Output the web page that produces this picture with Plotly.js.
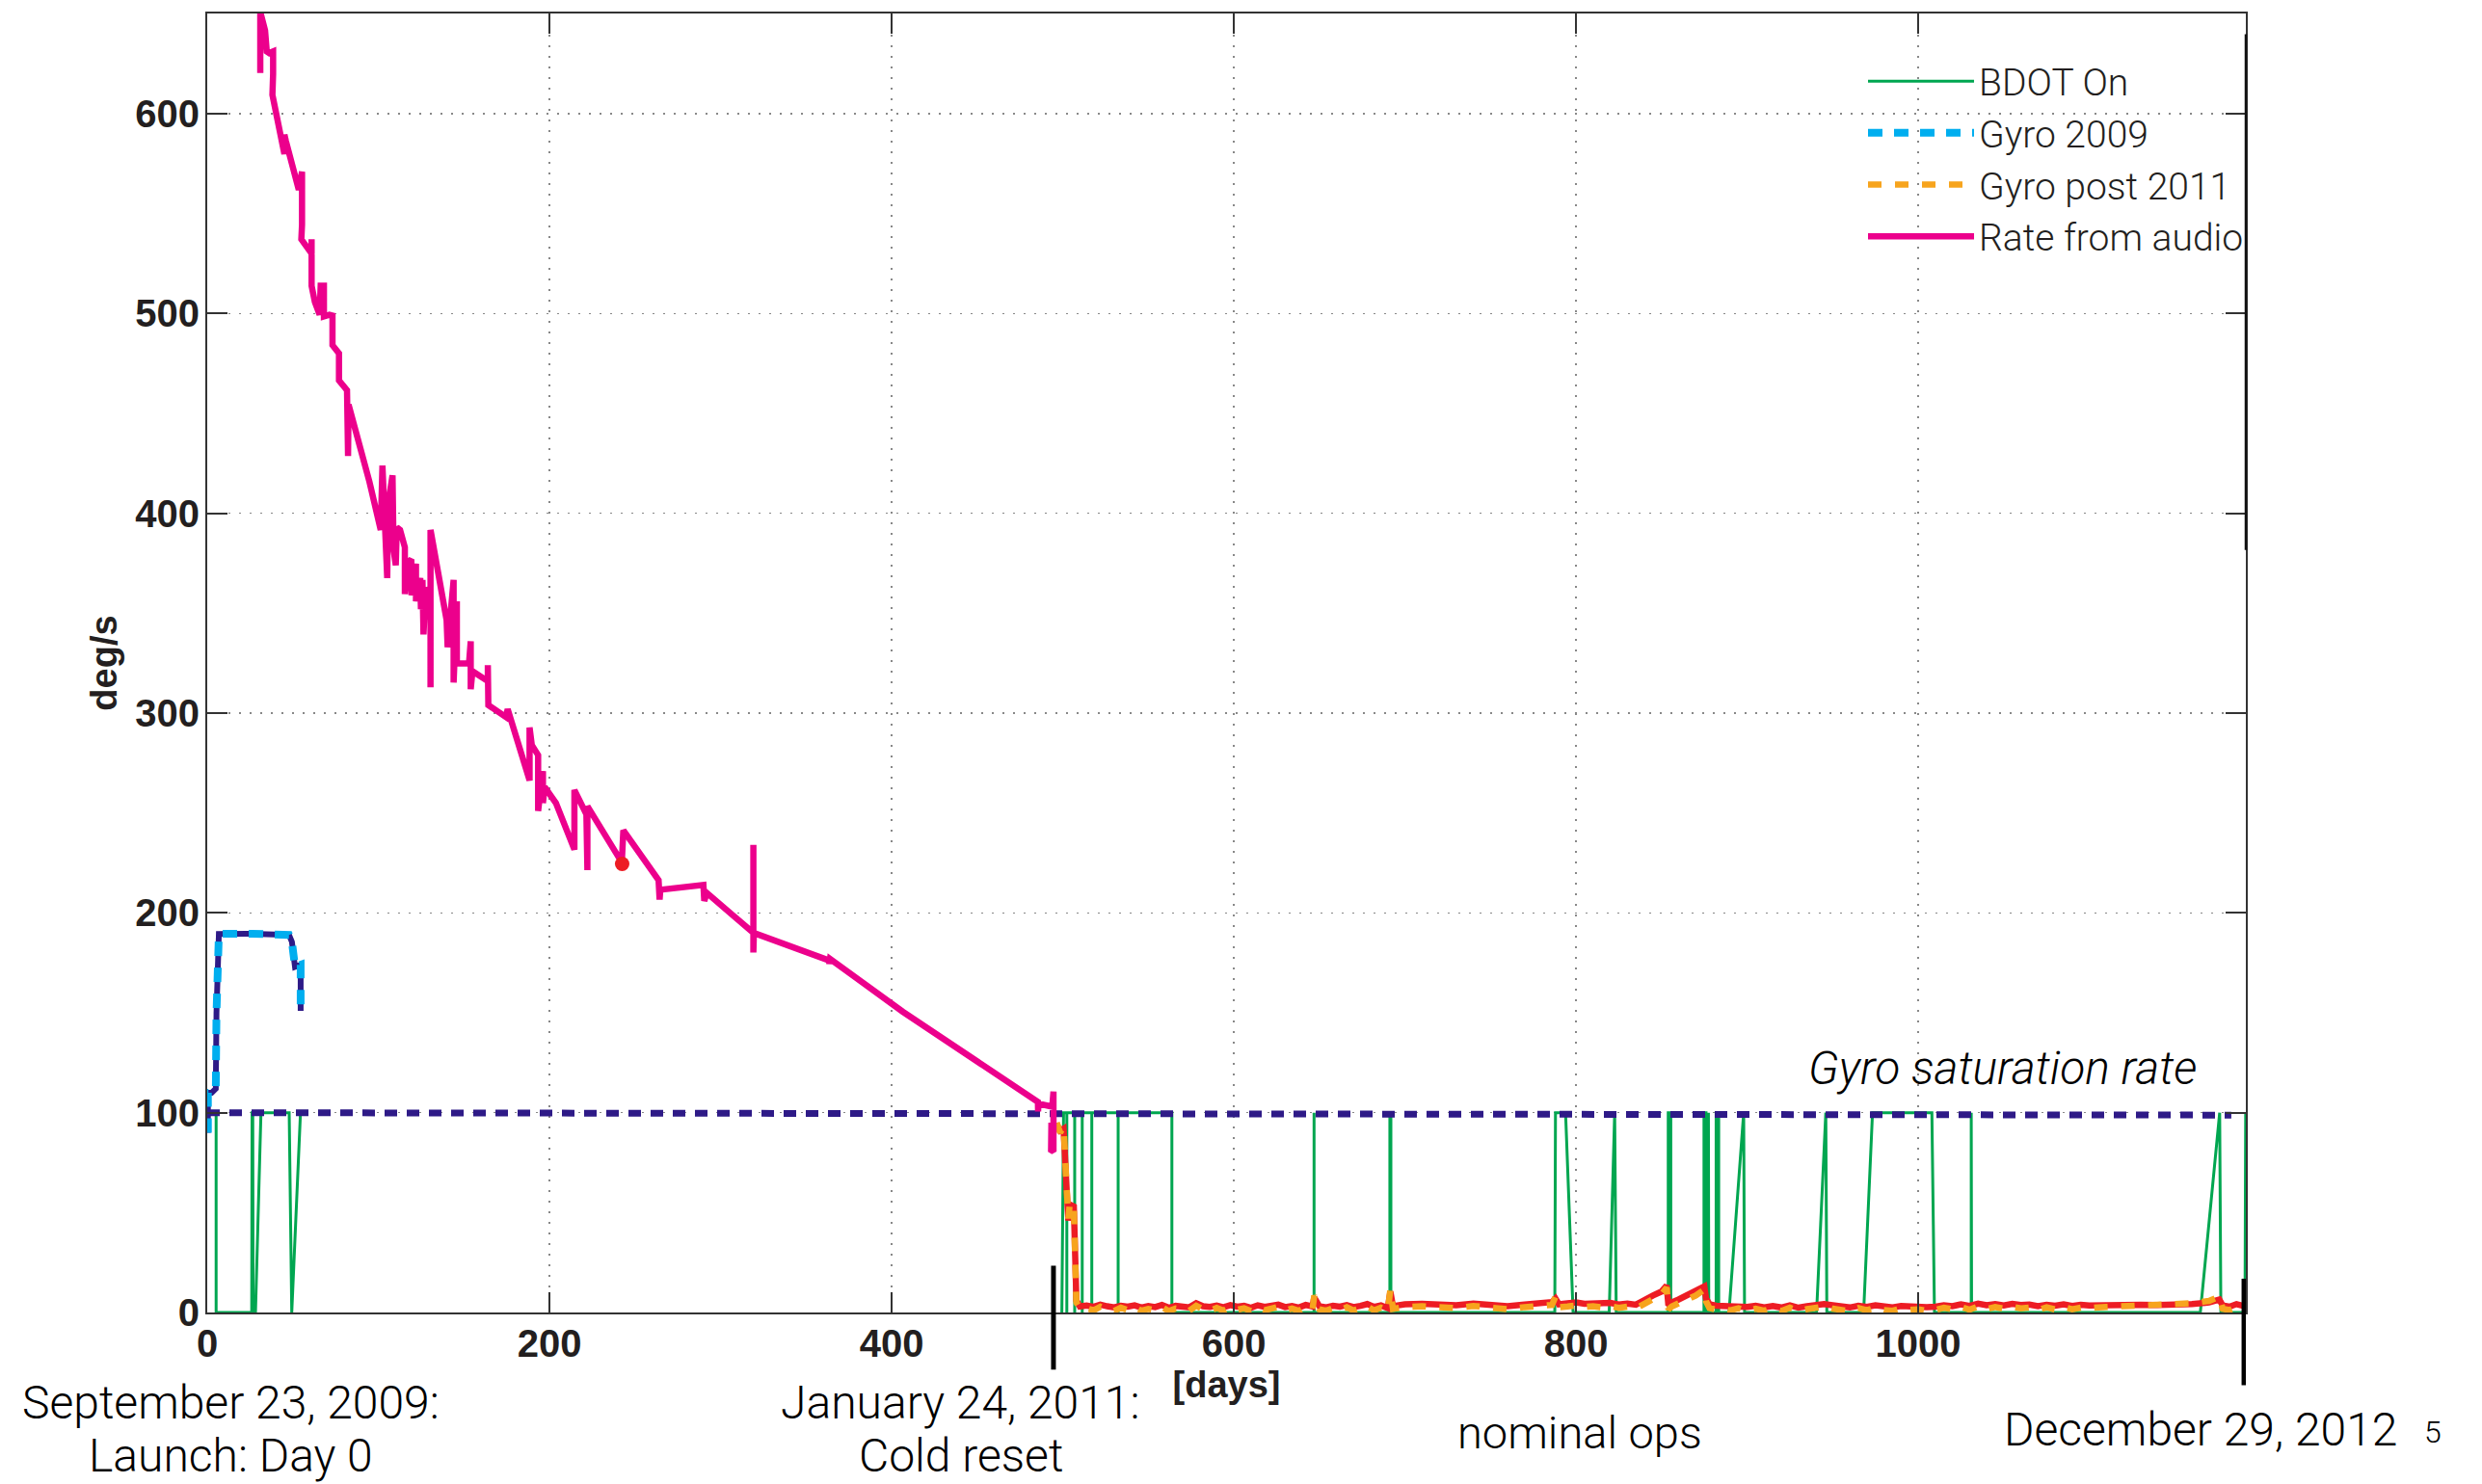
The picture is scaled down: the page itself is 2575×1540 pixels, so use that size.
<!DOCTYPE html>
<html>
<head>
<meta charset="utf-8">
<script src="https://cdn.plot.ly/plotly-3.0.1.min.js"></script>
<style>html,body{margin:0;padding:0;background:#fff;}#chart{width:2575px;height:1540px;}</style>
</head>
<body>
<div id="chart"></div>
<script>
// ---------------- data ----------------
const xTicks = [0, 200, 400, 600, 800, 1000];
const yTicks = [0, 100, 200, 300, 400, 500, 600];

// BDOT On (0 = off, 100 = on)
const bdotDays = [0.5, 5.2, 5.2, 26.0, 26.2, 26.6, 26.8, 28.2, 31.4, 47.9, 49.4, 54.5, null,
  499.5, 500.5, 502.4, 502.4, 502.4, 507.0, 507.0, 507.0, 511.4, 511.4, 511.4, 517.0, 517.0, 517.0,
  532.4, 532.4, 532.4, 563.8, 563.8, 646.9, 646.9, 646.9, 691.2, 691.2, 691.8, 691.8,
  787.6, 788.0, 793.9, 798.3, 819.4, 822.6, 823.5, 853.9, 853.9, 855.4, 855.4,
  874.8, 874.8, 876.0, 876.0, 877.4, 877.4, 877.6, 881.9, 881.9, 883.4, 883.4,
  889.4, 898.0, 898.5, 940.6, 946.0, 946.6, 968.1, 973.3, 1008.0, 1009.5,
  1031.0, 1031.0, 1031.2, 1164.9, 1176.2, 1176.9, 1191.0, 1191.4];
const bdotState = [100, 100, 0, 0, 100, 100, 0, 0, 100, 100, 0, 100, null,
  0, 100, 100, 0, 100, 100, 0, 100, 100, 0, 100, 100, 0, 100,
  100, 0, 100, 100, 0, 0, 100, 0, 0, 100, 100, 0,
  0, 100, 100, 0, 0, 100, 0, 0, 100, 100, 0,
  0, 100, 100, 0, 0, 100, 0, 0, 100, 100, 0,
  0, 100, 0, 0, 100, 0, 0, 100, 100, 0,
  0, 100, 0, 0, 100, 0, 0, 100];

// Gyro 2009
const gyro09Days = [0.4, 0.4, 2.6, 5.0, 5.4, 6.8, 26.0, 47.8, 49.5, 51.3, 54.6, 54.6];
const gyro09Rate = [90, 110, 110, 112, 150, 189.5, 189.6, 189.0, 185.5, 173.0, 174.0, 151.0];

// Gyro saturation rate
const satDays = [0, 1183];
const satRate = [100, 98.8];

// Gyro post 2011 (two channels)
const gyroPostDays = [496.5, 498.5, 500.5, 501.2, 502.4, 503.3, 504.2, 506.5, 508.0, 510.0,
  514, 518, 522, 526, 530, 534, 538, 542, 546, 550,
  554, 558, 562, 566, 570, 574, 578, 582, 586, 590,
  594, 598, 602, 606, 610, 614, 618, 622, 626, 630,
  634, 638, 642, 646, 647, 650, 654, 658, 662, 666,
  670, 674, 678, 682, 686, 690, 691.5, 693, 700, 710,
  720, 730, 740, 750, 760, 770, 780, 786, 788, 790,
  795, 800, 805, 810, 815, 820, 825, 830, 835, 840,
  845, 850, 853, 854, 856, 860, 865, 870, 875, 876,
  878, 882, 886, 890, 895, 900, 905, 910, 915, 920,
  925, 930, 935, 940, 945, 950, 955, 960, 965, 970,
  975, 980, 985, 990, 995, 1000, 1005, 1010, 1015, 1020,
  1025, 1030, 1035, 1040, 1045, 1050, 1055, 1060, 1065, 1070,
  1075, 1080, 1085, 1090, 1095, 1100, 1110, 1120, 1130, 1140,
  1150, 1160, 1170, 1176, 1178, 1182, 1186, 1190];
const gyroPostRed = [94, 91, 92, 70, 60, 46, 54, 53, 6, 3,
  3.5, 2.8, 3.9, 3.1, 2.6, 3.4, 2.9, 3.6, 2.5, 3.2,
  2.7, 3.8, 2.4, 3.3, 3.0, 2.6, 4.6, 3.1, 2.8, 3.5,
  2.6, 3.7, 2.9, 3.3, 2.4, 3.6, 2.8, 3.1, 3.9, 2.7,
  3.2, 2.5, 3.8, 3.0, 7.5, 3.1, 2.6, 3.4, 2.9, 3.7,
  2.7, 3.3, 4.2, 2.8, 3.5, 2.2, 10.5, 3.2, 4.1, 4.4,
  4.3, 3.6, 4.5, 3.8, 3.2, 4.0, 4.6, 5.2, 7.0, 4.1,
  4.6, 5.0, 4.4, 4.6, 4.2, 4.8, 4.0, 4.5, 3.9, 5.8,
  8.5, 10.5, 13.5, 3.5, 5.0, 6.5, 8.5, 10.5, 13.0, 7.0,
  4.2, 3.4, 3.1, 3.3, 3.0, 2.8, 3.4, 2.6, 3.2, 2.5,
  3.6, 2.4, 3.1, 3.5, 4.2, 3.6, 2.9, 2.5, 3.4, 2.8,
  3.6, 3.0, 2.6, 3.2, 2.9, 3.1, 2.6, 2.9, 3.6, 3.2,
  4.1, 3.3, 4.4, 3.6, 4.2, 3.5, 4.3, 3.7, 4.0, 3.2,
  3.9, 3.4, 4.1, 3.3, 3.8, 3.5, 3.8, 3.4, 3.9, 3.7,
  3.8, 4.2, 5.0, 6.5, 3.5, 2.9, 4.2, 3.3];
const gyroPostOrange = [95, 90, 93, 72, 61, 47, 55, 52, 5, 2,
  2.2, 1.0, 2.9, 1.5, 0.8, 2.4, 1.2, 2.8, 0.9, 1.8,
  1.1, 2.7, 0.7, 2.0, 1.4, 0.9, 3.4, 1.6, 0.8, 2.3,
  1.0, 2.6, 1.3, 2.1, 0.7, 2.5, 1.1, 1.9, 2.8, 1.0,
  2.0, 0.8, 2.7, 1.4, 8.5, 1.6, 0.9, 2.2, 1.2, 2.6,
  1.0, 2.1, 3.0, 1.1, 2.4, 0.8, 11.5, 1.8, 2.8, 3.1,
  3.0, 2.2, 3.3, 2.4, 1.6, 2.7, 3.2, 3.8, 8.0, 2.6,
  3.0, 3.5, 2.8, 3.1, 2.6, 3.2, 2.3, 2.9, 2.0, 4.2,
  7.0, 9.0, 12.5, 1.5, 3.0, 4.5, 6.5, 8.5, 11.5, 5.5,
  2.2, 1.4, 1.8, 1.0, 2.1, 0.8, 1.9, 0.9, 2.2, 0.7,
  2.4, 0.8, 1.7, 2.0, 3.0, 1.9, 1.0, 0.7, 2.2, 1.1,
  2.4, 1.2, 0.9, 2.0, 1.3, 1.6, 0.8, 1.2, 2.4, 1.6,
  2.8, 1.4, 3.0, 1.7, 2.7, 1.9, 2.9, 2.1, 2.5, 1.2,
  2.6, 1.5, 2.8, 1.6, 2.4, 2.2, 2.8, 3.1, 3.3, 3.6,
  3.9, 4.6, 5.8, 8.0, 1.8, 1.2, 2.6, 2.0];

// Rate from audio
const audioDays = [31.0, 31.0, 33.8, 34.8, 36.2, 38.5, 38.5, 38.1, 45.1, 45.1, 46.0, 53.5, 55.4, 55.4, 55.0,
  61.0, 61.0, 61.0, 62.9, 65.7, 66.3, 68.2, 68.2, 71.4, 73.2, 73.2, 77.0, 77.0, 81.7, 82.3, 82.6,
  94.8, 101.4, 102.4, 105.2, 105.7, 108.3, 108.9, 110.2, 110.8, 112.7, 115.5, 115.5, 117.4, 119.3, 119.4,
  122.0, 122.0, 124.5, 124.9, 125.8, 126.4, 127.7, 130.5, 130.5, 130.5, 139.9, 140.5, 144.0, 144.0,
  145.9, 145.9, 153.0, 154.0, 154.0, 155.0, 164.0, 164.0, 164.3, 174.6, 175.6, 188.4, 188.4, 189.7,
  193.4, 193.4, 196.2, 196.2, 197.2, 203.8, 214.6, 214.6, 221.6, 222.2, 222.2, 242.3, 243.2,
  263.8, 264.4, 264.8, 290.0, 290.5, 292.0, 319.2, 319.2, 319.2, 319.5, 363.4, 363.6, 364.0,
  406.6, 485.5, 485.6, 485.8, 493.9, 494.6, 494.6, 493.2, 493.4];
const audioRate = [620.4, 651, 641.7, 631.2, 630.4, 631.2, 620.0, 609.5, 579.8, 589.5, 586.3, 562.0, 571.0, 544.5, 537.2,
  530.0, 537.2, 513.9, 505.8, 499.4, 513.9, 513.9, 498.6, 499.4, 499.0, 484.2, 480.1, 466.5, 461.6, 428.7, 454.4,
  415.8, 391.7, 423.9, 367.6, 404.5, 419.0, 382.0, 374.0, 393.0, 391.7, 383.0, 359.6, 375.6, 377.0, 359.0,
  374.8, 356.0, 367.6, 352.0, 366.7, 339.4, 362.8, 357.9, 312.9, 391.7, 346.6, 333.0, 366.7, 315.3,
  356.0, 324.8, 324.8, 336.0, 312.0, 321.0, 316.0, 324.0, 304.0, 298.0, 302.0, 266.3, 292.8, 284.0,
  279.0, 251.0, 271.0, 255.0, 263.0, 255.0, 231.7, 261.5, 249.4, 221.4, 253.4, 225.3, 241.3,
  216.4, 206.7, 211.6, 214.0, 206.0, 210.0, 190.0, 234.0, 180.2, 190.0, 176.2, 174.5, 177.0,
  150.5, 105.4, 100.6, 104.5, 103.0, 110.6, 80.6, 81.3, 95.0];

// single red point on the audio curve
const gyroPointDay = [242.5];
const gyroPointRate = [224.5];

// event markers under the axis
const eventDays = [494.6, 1190.4];

// ---------------- chart ----------------
const LIGHT = 'Roboto, "Liberation Sans", Arial, sans-serif';
const BOLD = '"Liberation Sans", Arial, Helvetica, sans-serif';
const INK = '#231f20';

const traces = [
  {x: bdotDays, y: bdotState, name: 'BDOT On', mode: 'lines', connectgaps: false,
   line: {color: '#00a650', width: 3}, legendrank: 1},
  {x: gyroPostDays, y: gyroPostRed, name: 'Gyro post 2011 (red)', mode: 'lines', showlegend: false,
   line: {color: '#ed1c24', width: 6.5}},
  {x: gyroPostDays, y: gyroPostOrange, name: 'Gyro post 2011', mode: 'lines',
   line: {color: '#f7a41d', width: 6.5, dash: '14px,14px'}, legendrank: 3},
  {x: satDays, y: satRate, name: 'Gyro saturation rate', mode: 'lines', showlegend: false,
   line: {color: '#2e1a87', width: 7, dash: '13px,10px'}},
  {x: gyro09Days, y: gyro09Rate, name: 'Gyro 2009 (navy)', mode: 'lines', showlegend: false,
   line: {color: '#2e1a87', width: 6}},
  {x: gyro09Days, y: gyro09Rate, name: 'Gyro 2009', mode: 'lines',
   line: {color: '#00aeef', width: 8, dash: '15px,12px'}, legendrank: 2},
  {x: audioDays, y: audioRate, name: 'Rate from audio', mode: 'lines',
   line: {color: '#ec008c', width: 6.5}, legendrank: 4},
  {x: gyroPointDay, y: gyroPointRate, name: 'gyro point', mode: 'markers', showlegend: false,
   marker: {color: '#ed1c24', size: 15}}
];

const axisCommon = {
  showline: true, linecolor: '#333', linewidth: 2, mirror: 'ticks',
  ticks: 'inside', ticklen: 21, tickwidth: 2, tickcolor: '#333',
  showgrid: true, gridcolor: '#888', gridwidth: 1.5, griddash: '2px,9px',
  zeroline: false,
  tickfont: {family: BOLD, size: 40, color: INK, weight: 'bold'}
};

const shapes = eventDays.map((d, i) => ({
  type: 'line', xref: 'x', yref: 'paper', x0: d, x1: d,
  y0: i === 0 ? 0.036 : 0.026, y1: i === 0 ? -0.044 : -0.056,
  line: {color: '#000', width: 5}
}));
shapes.push({type: 'line', xref: 'paper', yref: 'paper', x0: 1, x1: 1, y0: 0.984, y1: 0.587,
  line: {color: '#111', width: 2.5}});

const ann = (text, x, y, size, extra) => Object.assign({
  text: text, xref: 'paper', yref: 'paper', x: x, y: y, showarrow: false,
  xanchor: 'center', yanchor: 'middle',
  font: {family: LIGHT, size: size, color: '#000', weight: 300}
}, extra || {});

const layout = {
  width: 2575, height: 1540,
  margin: {l: 215, r: 245, t: 14, b: 178, pad: 0},
  paper_bgcolor: '#fff', plot_bgcolor: '#fff',
  showlegend: true,
  legend: {x: 0.8123, xanchor: 'left', y: 0.9716, yanchor: 'top', bgcolor: 'rgba(0,0,0,0)',
    borderwidth: 0, itemwidth: 110, tracegroupgap: 0,
    font: {family: LIGHT, size: 39, color: INK, weight: 300}},
  xaxis: Object.assign({}, axisCommon, {
    range: [0, 1191.5], tickvals: xTicks, ticktext: xTicks.map(String), ticklabelstandoff: -4,
    title: {text: '[days]', standoff: 4, font: {family: BOLD, size: 38, color: INK, weight: 'bold'}}
  }),
  yaxis: Object.assign({}, axisCommon, {
    range: [0, 650.2], tickvals: yTicks, ticktext: yTicks.map(String), ticklabelstandoff: -2,
    title: {text: 'deg/s', standoff: 7, font: {family: BOLD, size: 38, color: INK, weight: 'bold'}}
  }),
  shapes: shapes,
  annotations: [
    ann('September 23, 2009:', 0.0118, -0.0697, 48),
    ann('Launch: Day 0', 0.0118, -0.1098, 48),
    ann('January 24, 2011:', 0.3697, -0.0697, 48),
    ann('Cold reset', 0.3697, -0.1098, 48),
    ann('nominal ops', 0.6733, -0.092, 47),
    ann('December 29, 2012', 0.9778, -0.0898, 48),
    ann('5', 1.0917, -0.092, 32),
    ann('<i>Gyro saturation rate</i>', 0.8804, 0.188, 48)
  ]
};

Plotly.newPlot('chart', traces, layout, {displayModeBar: false, staticPlot: true});
</script>
</body>
</html>
